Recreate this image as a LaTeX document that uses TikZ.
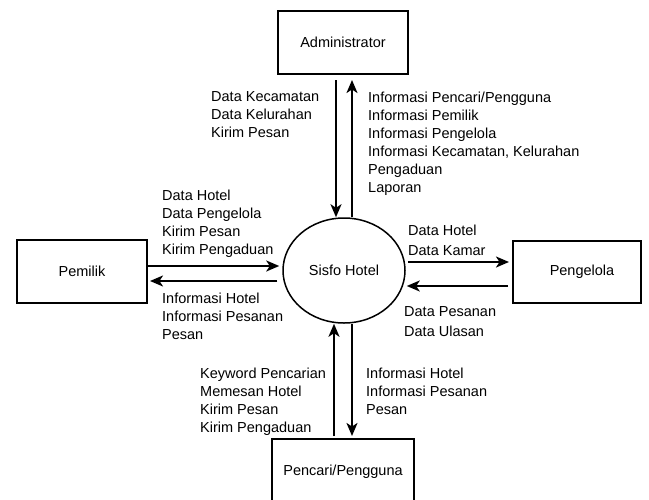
\documentclass[tikz,border=0pt]{standalone}
\usepackage{fontspec}
\setmainfont{Liberation Sans}
\usetikzlibrary{arrows.meta,shapes.geometric}
\begin{document}
\begin{tikzpicture}[x=1pt,y=-1pt,
  entity/.style={draw,line width=2pt,minimum width=130pt,minimum height=63pt,inner sep=0pt},
  proses/.style={draw,ellipse,line width=1.5pt,minimum width=122pt,minimum height=105pt,inner sep=0pt},
  flow/.style={line width=2pt,-{Stealth[length=13pt,width=11pt,inset=3.5pt]}},
  lbl/.style={anchor=north west,inner sep=0pt,align=left,font=\fontsize{14.5}{18}\selectfont}]
\useasboundingbox (0,0) rectangle (649,499);
\clip (0,0) rectangle (649,499);
% entitas dan proses
\node[entity] (admin) at (343,42.5) {\fontsize{14.5}{18}\selectfont Administrator};
\node[proses] (sisfo) at (344,270.5) {\fontsize{14.5}{18}\selectfont Sisfo Hotel};
\node[entity] (pemilik) at (82,271.5) {\fontsize{14.5}{18}\selectfont Pemilik};
\node[entity,minimum width=128pt,minimum height=62pt] (pengelola) at (577,272) {\fontsize{14.5}{18}\selectfont\hspace{10pt}Pengelola};
\node[entity,minimum width=142pt,minimum height=66pt] (pencari) at (343,472) {\fontsize{14.5}{18}\selectfont Pencari/Pengguna};
% administrator
\draw[flow,shorten <=5pt] ([xshift=-7pt]admin.south) -- ([xshift=-7pt]admin.south |- sisfo.north);
\draw[flow,shorten >=5pt] ([xshift=8pt]sisfo.north) -- ([xshift=8pt]sisfo.north |- admin.south);
\node[lbl] (admdata) at (211,91.5) {Data Kecamatan\\Data Kelurahan\\Kirim Pesan};
\node[lbl] (adminfo) at (368,91.5) {Informasi Pencari/Pengguna\\Informasi Pemilik\\Informasi Pengelola\\Informasi Kecamatan, Kelurahan\\Pengaduan\\Laporan};
% pemilik
\draw[flow,shorten >=3pt] ([yshift=5.5pt]pemilik.east) -- ([yshift=5.5pt]pemilik.east -| sisfo.west);
\draw[flow,shorten <=5pt,shorten >=2pt] ([yshift=-9.5pt]pemilik.east -| sisfo.west) -- ([yshift=-9.5pt]pemilik.east);
\node[lbl] (pemdata) at (162,189.5) {Data Hotel\\Data Pengelola\\Kirim Pesan\\Kirim Pengaduan};
\node[lbl] (peminfo) at (162,292.5) {Informasi Hotel\\Informasi Pesanan\\Pesan};
% pengelola
\draw[flow,shorten <=2pt,shorten >=3pt] ([yshift=10pt]pengelola.west -| sisfo.east) -- ([yshift=10pt]pengelola.west);
\draw[flow,shorten <=4pt,shorten >=1pt] ([yshift=-14pt]pengelola.west) -- ([yshift=-14pt]pengelola.west -| sisfo.east);
\node[lbl] (pgldata) at (408,224.5) {Data Hotel\\[2pt]Data Kamar};
\node[lbl] (pglpesan) at (404,306.5) {Data Pesanan\\[2pt]Data Ulasan};
% pencari/pengguna
\draw[flow,shorten <=2pt] ([xshift=-9pt]pencari.north) -- ([xshift=-9pt]pencari.north |- sisfo.south);
\draw[flow,shorten >=2pt] ([xshift=9pt]pencari.north |- sisfo.south) -- ([xshift=9pt]pencari.north);
\node[lbl] (pcrdata) at (200,367.5) {Keyword Pencarian\\Memesan Hotel\\Kirim Pesan\\Kirim Pengaduan};
\node[lbl] (pcrinfo) at (366,367.5) {Informasi Hotel\\Informasi Pesanan\\Pesan};
\end{tikzpicture}
\end{document}
